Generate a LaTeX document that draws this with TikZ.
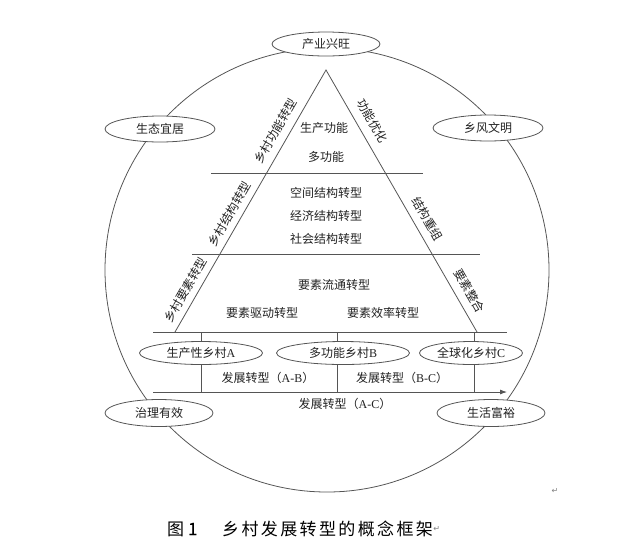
\documentclass[tikz,border=0pt]{standalone}
\usepackage{fontspec}
\setmainfont{Noto Sans CJK SC}
\newfontfamily\lat{Liberation Serif}
\newfontfamily\sym{DejaVu Sans}
\usetikzlibrary{shapes.geometric,arrows.meta}
\definecolor{linecol}{HTML}{555555}
\definecolor{txtcol}{HTML}{222222}
\tikzset{
  lbl/.style={font=\fontsize{12}{14}\selectfont, text=txtcol, inner sep=0pt},
  oval/.style={ellipse, draw=linecol, line width=0.8pt, fill=white, inner sep=0pt, font=\fontsize{12}{14}\selectfont, text=txtcol},
  ln/.style={draw=linecol, line width=0.8pt}
}
\begin{document}
\begin{tikzpicture}[x=1pt,y=-1pt]
\useasboundingbox (0,0) rectangle (631,547);
% outer circle
\node[circle, ln, minimum size=444pt, inner sep=0pt] (circ) at (327,270) {};
% triangle
\coordinate (apex) at (326,70);
\coordinate (bl) at (175,332);
\coordinate (br) at (477,332);
\draw[ln] (bl) -- (apex) -- (br);
% horizontal lines
\coordinate (h1l) at (211,173); \coordinate (h1r) at (423,173);
\coordinate (h2l) at (192,254); \coordinate (h2r) at (480,254);
\coordinate (h3l) at (153,332); \coordinate (h3r) at (507,332);
\draw[ln] (h1l) -- (h1r);
\draw[ln] (h2l) -- (h2r);
\draw[ln] (h3l) -- (h3r);
% ellipses
\node[oval, minimum width=108pt, minimum height=24pt] (top) at (326,44) {产业兴旺};
\node[oval, minimum width=110pt, minimum height=26pt] (eco) at (160,129) {生态宜居};
\node[oval, minimum width=110pt, minimum height=26pt] (civ) at (488,128) {乡风文明};
\node[oval, minimum width=108pt, minimum height=27pt] (gov) at (159,413) {治理有效};
\node[oval, minimum width=108pt, minimum height=27pt] (rich) at (491,413) {生活富裕};
\node[oval, minimum width=123pt, minimum height=23pt] (A) at (201,353) {生产性乡村{\lat A}};
\node[oval, minimum width=133pt, minimum height=23pt] (B) at (343,353) {多功能乡村{\lat B}};
\node[oval, minimum width=103pt, minimum height=23pt] (C) at (471,353) {全球化乡村{\lat C}};
% ticks
\coordinate (ta) at (201,332); \coordinate (tb) at (337,332); \coordinate (tc) at (474,332);
\coordinate (ba) at (201,392); \coordinate (bb) at (337,392); \coordinate (bc) at (474,392);
\draw[ln] (ta) -- (A.north);
\draw[ln] (tb) -- (tb |- B.north);
\draw[ln] (tc) -- (tc |- C.north);
\draw[ln] (A.south) -- (ba);
\draw[ln] (bb |- B.south) -- (bb);
\draw[ln] (bc |- C.south) -- (bc);
% arrow
\coordinate (arrL) at (153,392); \coordinate (arrR) at (507,392);
\draw[ln, -{Latex[length=7pt,width=5pt]}] (arrL) -- (arrR);
% transition labels
\node[lbl] (tab) at (268,378) {发展转型（{\lat A-B}）};
\node[lbl] (tbc) at (402,378) {发展转型（{\lat B-C}）};
\node[lbl] (tac) at (345,404) {发展转型（{\lat A-C}）};
% triangle contents
\node[lbl] (t1) at (324,128) {生产功能};
\node[lbl] (t2) at (326,157) {多功能};
\node[lbl] (t3) at (326,193) {空间结构转型};
\node[lbl] (t4) at (326,216) {经济结构转型};
\node[lbl] (t5) at (326,239) {社会结构转型};
\node[lbl] (t6) at (334,285) {要素流通转型};
\node[lbl] (t7) at (262,313) {要素驱动转型};
\node[lbl] (t8) at (383,313) {要素效率转型};
% side labels
\node[lbl, rotate=60] (l1) at (276,131) {乡村功能转型};
\node[lbl, rotate=60] (l2) at (230,214) {乡村结构转型};
\node[lbl, rotate=60] (l3) at (186,290) {乡村要素转型};
\node[lbl, rotate=-60] (r1) at (372,121) {功能优化};
\node[lbl, rotate=-60] (r2) at (427,219) {结构重组};
\node[lbl, rotate=-60] (r3) at (469,291) {要素整合};
% caption
\node[inner sep=0pt, anchor=west, font=\fontsize{17}{20}\selectfont, text=black] (cap1) at (167,529) {图 {\addfontfeature{FakeBold=0.5}1}};
\node[inner sep=0pt, anchor=west, font=\fontsize{17}{20}\selectfont\addfontfeature{LetterSpace=14}, text=black] (cap2) at (222,529) {乡村发展转型的概念框架};
\node[inner sep=0pt, anchor=west, font=\sym\fontsize{8}{9}\selectfont, text=gray] (ret1) at (cap2.east) {↵};
\node[inner sep=0pt, font=\sym\fontsize{8}{9}\selectfont, text=gray] (ret2) at (555,491) {↵};
\end{tikzpicture}
\end{document}
